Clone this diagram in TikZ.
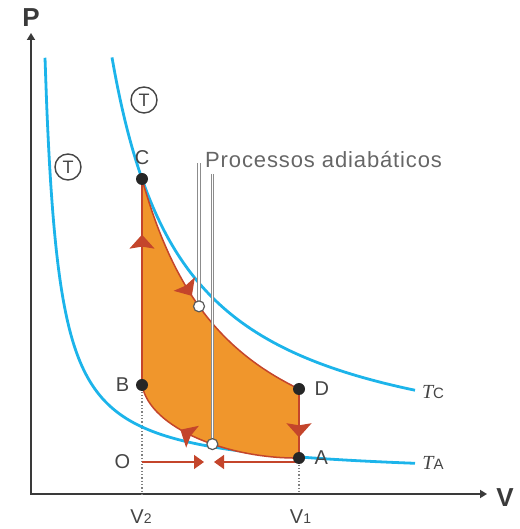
\documentclass[tikz,border=0pt]{standalone}
\usepackage{fontspec}
\setmainfont{Liberation Sans}
\newfontfamily\serifit{Liberation Serif}
\usepackage{tikz}
\usetikzlibrary{positioning,calc,arrows.meta,decorations.markings}

\definecolor{isocyan}{HTML}{1CB4EA}
\definecolor{cyclefill}{HTML}{F0962C}
\definecolor{cyclered}{HTML}{C4452B}
\definecolor{axisgray}{HTML}{3A3A3A}
\definecolor{textgray}{HTML}{454545}

\begin{document}
\begin{tikzpicture}[
x=1pt, y=1pt,
font=\fontsize{20}{24}\selectfont,
text=textgray,
isotherm/.style={
isocyan,
line width=2.8pt
},
cycleline/.style={
cyclered,
line width=1.5pt
},
midarrow/.style={
postaction={decorate},
decoration={markings,
mark=at position #1 with {\arrow{Stealth[length=14pt,width=25pt,inset=2pt]}}}
},
state/.style={
circle,
fill=black!85,
inner sep=0pt,
minimum size=12pt
},
probe/.style={
circle,
draw=black!65,
fill=white,
line width=1.2pt,
inner sep=0pt,
minimum size=11pt
},
tmark/.style={
circle,
draw=textgray,
line width=1.4pt,
inner sep=0pt,
minimum size=26pt,
font=\fontsize{18}{18}\selectfont
},
guide/.style={
draw=black!45,
double=white,
double distance=1.2pt,
line width=1pt
},
dotline/.style={
black!50,
dotted,
line width=1.3pt
}
]

\useasboundingbox (0,0) rectangle (519,529);


% Axes

\coordinate (origin) at (31,35);
\coordinate (ptop) at (31,496);
\coordinate (vend) at (487,35);

\draw[axisgray, line width=2.5pt,
{Triangle[length=7pt,width=8pt]}-{Triangle[length=7pt,width=8pt]}]
(ptop) -- (origin) -- (vend);

\node[text=axisgray] (plabel) at (31,511) {\bfseries\fontsize{26}{26}\selectfont P};
\node[text=axisgray] (vlabel) at (505,31) {\bfseries\fontsize{26}{26}\selectfont V};


% States of the cycle

\coordinate (ptC) at (142,350);
\coordinate (ptB) at (142,144);
\coordinate (ptD) at (299,140);
\coordinate (ptA) at (299,71);

\draw[dotline] (ptB) -- (ptB |- origin);
\draw[dotline] (ptA) -- (ptA |- origin);


% Isotherms

\draw[isotherm] plot[domain=45:415, samples=200, smooth]
(\x, {51+56.32/((\x-31.59)*0.01)});
\draw[isotherm] plot[domain=112:415, samples=150, smooth]
(\x, {60+294.93/((\x-40.3)*0.01)});

\node (tc) at (433,136.5)
{{\serifit\itshape T}{\fontsize{15}{15}\selectfont C}};
\node (ta) at (433,66)
{{\serifit\itshape T}{\fontsize{15}{15}\selectfont A}};

\node[tmark] (tleft) at (68,362) {T};
\node[tmark] (tright) at (144,429) {T};


% Cycle

\fill[cyclefill] plot[domain=142:299, samples=60]
(\x, {36+314*(110/(\x-32))^1.246})
-- (ptA) .. controls (230,70) and (150,100) .. (ptB) -- cycle;

\draw[cycleline, midarrow=0.47] plot[domain=142:299, samples=60]
(\x, {36+314*(110/(\x-32))^1.246});
\draw[cycleline, midarrow=0.7] (ptD) -- (ptA);
\draw[cycleline, midarrow=0.67]
(ptA) .. controls (230,70) and (150,100) .. coordinate[pos=0.42] (lowc) (ptB);
\draw[cycleline, midarrow=0.73] (ptB) -- (ptC);


% Intake and exhaust

\coordinate (ostart) at (142,67);
\coordinate (oright) at (204,67);
\coordinate (oleft) at (214,67);

\draw[cycleline, -{Triangle[length=10pt,width=14pt]}] (ostart) -- (oright);
\draw[cycleline, -{Triangle[length=10pt,width=14pt]}] (ptA |- ostart) -- (oleft);


% Adiabatic processes

\coordinate (upc) at (199,{36+314*(110/167)^1.246});
\coordinate (g1top) at (199,366);
\coordinate (g2top) at (213,355);

\draw[guide] (upc) -- (upc |- g1top);
\draw[guide] (lowc) -- (lowc |- g2top);

\node[probe] (upper) at (upc) {};
\node[probe] (lower) at (lowc) {};

\node[anchor=base west, inner sep=0pt, text=black!60] (adlabel) at (205,361)
{\fontsize{22}{24}\selectfont\addfontfeatures{LetterSpace=4}Processos adiabáticos};


% Points

\node[state] (C) at (ptC) {};
\node[state] (B) at (ptB) {};
\node[state] (D) at (ptD) {};
\node[state] (A) at (ptA) {};

\node (lc) [above=5pt of C] {C};
\node (lb) [left=3pt of B] {B};
\node (ld) [right=6pt of D] {D};
\node (la) [right=6pt of A] {A};
\node (lo) at (122.5,67.5) {O};

\node (v2) at (141,12.5) {V\fontsize{14}{14}\selectfont 2};
\node (v1) at (300.5,12) {V\fontsize{14}{14}\selectfont 1};


\end{tikzpicture}
\end{document}
